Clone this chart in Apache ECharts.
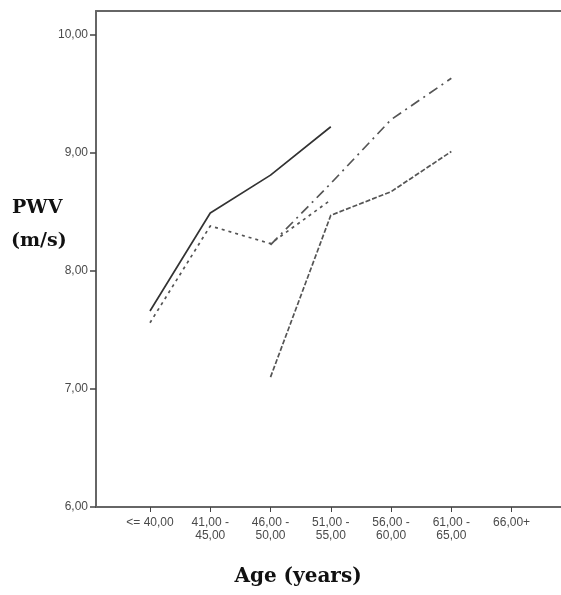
<!DOCTYPE html>
<html>
<head>
<meta charset="utf-8">
<script src="https://cdn.jsdelivr.net/npm/echarts@6/dist/echarts.min.js"></script>
<style>
  html, body { margin: 0; padding: 0; background: #fff; }
  #chart { width: 561px; height: 595px; }
</style>
</head>
<body>
<div id="chart"></div>
<script>
// Age groups along the x axis
const ageGroups = ['<= 40,00', '41,00 -\n45,00', '46,00 -\n50,00', '51,00 -\n55,00', '56,00 -\n60,00', '61,00 -\n65,00', '66,00+'];
// Mean pulse wave velocity (m/s) per age group, one array per group line
const pwvSolid  = [7.66, 8.49, 8.81, 9.22, null, null, null];
const pwvDotted = [7.56, 8.38, 8.23, 8.60, null, null, null];
const pwvDashDot = [null, null, 8.22, 8.74, 9.28, 9.63, null];
const pwvDashed = [null, null, 7.10, 8.47, 8.67, 9.01, null];
// Tick values on the y axis
const yTicks = [6, 7, 8, 9, 10];

const groupIdx = ageGroups.map((_, i) => i);
const toPairs = arr => arr.map((v, i) => [i, v]);
const fmt = v => v.toFixed(2).replace('.', ',');

const chart = echarts.init(document.getElementById('chart'), null, { renderer: 'canvas' });

const lineSeries = (data, color, type, width) => ({
  type: 'line',
  data: toPairs(data),
  showSymbol: false,
  symbol: 'none',
  connectNulls: false,
  lineStyle: { color: color, width: width, type: type },
  animation: false
});

const labelFont = { color: '#4a4a4a', fontFamily: 'Arial, "Liberation Sans", sans-serif', fontSize: 12 };

chart.setOption({
  animation: false,
  backgroundColor: '#ffffff',
  grid: { left: 96, right: 0, top: 11, bottom: 88 },
  xAxis: [
    {
      type: 'value',
      min: -0.896,
      max: 6.82,
      splitLine: { show: false },
      axisLine: { show: true, onZero: false, lineStyle: { color: '#666', width: 2 } },
      axisTick: { show: true, customValues: groupIdx, length: 5, lineStyle: { color: '#444', width: 1 } },
      axisLabel: Object.assign({
        customValues: groupIdx,
        formatter: v => ageGroups[Math.round(v)] || '',
        lineHeight: 13, margin: 9
      }, labelFont)
    },
    {
      // frame line along the top of the plot
      type: 'value',
      position: 'top',
      min: -0.896,
      max: 6.82,
      splitLine: { show: false },
      axisLine: { show: true, onZero: false, lineStyle: { color: '#666', width: 2 } },
      axisTick: { show: false },
      axisLabel: { show: false }
    }
  ],
  yAxis: {
    type: 'value',
    min: 6,
    max: 10.2,
    splitLine: { show: false },
    axisLine: { show: true, onZero: false, lineStyle: { color: '#666', width: 2 } },
    axisTick: { show: true, customValues: yTicks, length: 6, lineStyle: { color: '#444', width: 1.5 } },
    axisLabel: Object.assign({
      customValues: yTicks,
      formatter: v => fmt(v),
      margin: 8
    }, labelFont)
  },
  graphic: [
    { type: 'text', x: 12, y: 199, style: { text: 'PWV', font: 'bold 19px "DejaVu Serif", serif', fill: '#111' } },
    { type: 'text', x: 11, y: 232, style: { text: '(m/s)', font: 'bold 19px "DejaVu Serif", serif', fill: '#111' } },
    { type: 'text', x: 298, y: 567, style: { text: 'Age (years)', font: 'bold 20px "DejaVu Serif", serif', fill: '#111', textAlign: 'center' } }
  ],
  series: [
    lineSeries(pwvSolid, '#333', 'solid', 1.7),
    lineSeries(pwvDotted, '#555', [3, 4], 1.7),
    lineSeries(pwvDashDot, '#555', [10, 5, 2, 5], 1.7),
    lineSeries(pwvDashed, '#555', [5, 2], 1.7)
  ]
});
</script>
</body>
</html>
